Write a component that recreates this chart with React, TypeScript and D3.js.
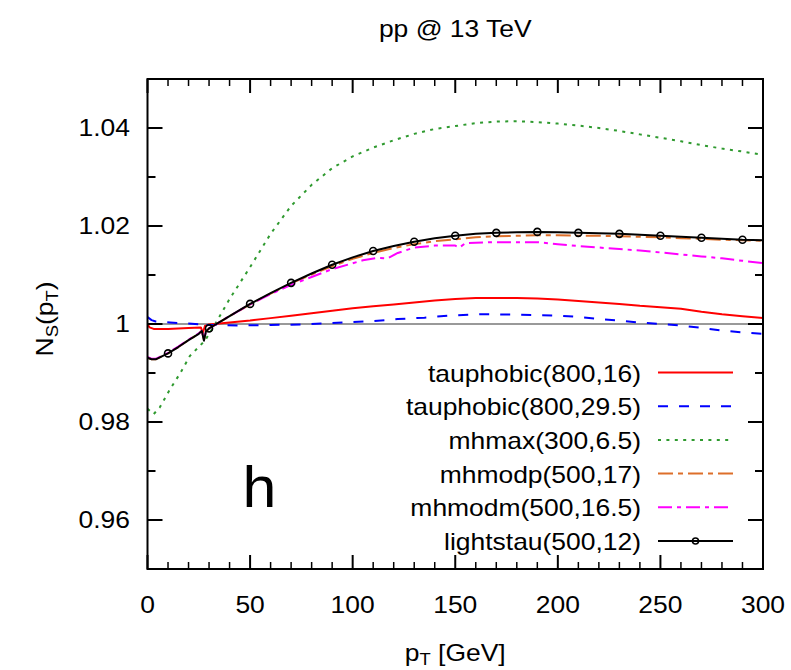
import React from "react";
import * as d3 from "d3";

const titleText = "pp @ 13 TeV";
const xTickValues = [0, 50, 100, 150, 200, 250, 300];
const xTickLabels = ["0", "50", "100", "150", "200", "250", "300"];
const yTickValues = [0.96, 0.98, 1, 1.02, 1.04];
const yTickLabels = ["0.96", "0.98", "1", "1.02", "1.04"];
const seriesNames = [
  "tauphobic(800,16)",
  "tauphobic(800,29.5)",
  "mhmax(300,6.5)",
  "mhmodp(500,17)",
  "mhmodm(500,16.5)",
  "lightstau(500,12)",
];

type P = [number, number];

const tauphobic16: P[] = [
  [0, 1.0], [1, 0.9993], [3, 0.999], [10, 0.999], [20, 0.9992], [26, 0.9993], [27, 0.9982], [28, 0.9996],
  [30, 0.9999], [40, 1.0003], [50, 1.0007], [60, 1.0012], [70, 1.0017], [80, 1.0022], [90, 1.0027],
  [100, 1.0032], [110, 1.0036], [120, 1.004], [130, 1.0044], [140, 1.0048], [150, 1.0051], [160, 1.0053],
  [170, 1.0053], [180, 1.0053], [190, 1.0052], [200, 1.005], [210, 1.0047], [220, 1.0044], [230, 1.0041],
  [240, 1.0037], [250, 1.0034], [260, 1.0031], [270, 1.0025], [280, 1.002], [290, 1.0016], [300, 1.0012],
];

const tauphobic295: P[] = [
  [0, 1.0014], [2, 1.0008], [4, 1.0005], [11, 1.0003], [20, 1.0001], [26, 0.9999], [27, 0.9993], [28, 0.9998],
  [30, 0.9998], [45, 0.9997], [60, 0.9998], [75, 0.9999], [86, 1.0001], [95, 1.0003], [110, 1.0006],
  [122, 1.001], [135, 1.0013], [147, 1.0017], [162, 1.002], [182, 1.0019], [201, 1.0017], [211, 1.0014],
  [221, 1.001], [230, 1.0007], [240, 1.0003], [250, 1.0], [260, 0.9997], [270, 0.9992], [279, 0.9987],
  [290, 0.9983], [300, 0.998],
];

const mhmax: P[] = [
  [0, 0.9827], [3, 0.9816], [6, 0.983], [11, 0.9867], [16, 0.99], [20.7, 0.9935], [28, 0.9966], [33, 1.0],
  [40, 1.0051], [50, 1.0116], [60, 1.0184], [70, 1.0241], [80, 1.0284], [90, 1.0318], [100, 1.0342],
  [110, 1.036], [120, 1.0375], [130, 1.0388], [140, 1.0398], [150, 1.0404], [160, 1.041], [170, 1.0413],
  [180, 1.0414], [190, 1.0412], [200, 1.0409], [210, 1.0405], [220, 1.04], [230, 1.0394], [240, 1.0387],
  [250, 1.038], [260, 1.0373], [270, 1.0365], [280, 1.0358], [290, 1.0352], [300, 1.0345],
];

const mhmodp: P[] = [
  [0, 0.9931], [2, 0.9928], [4, 0.9928], [6, 0.9932], [10, 0.994], [15, 0.9953], [20, 0.9967], [25, 0.998],
  [26.5, 0.9986], [27.5, 0.9968], [28.5, 0.9985], [30, 0.9991], [40, 1.0016], [50, 1.004], [60, 1.0062],
  [70, 1.0083], [80, 1.0101], [90, 1.0118], [100, 1.0133], [110, 1.0145], [120, 1.0155], [130, 1.0163],
  [140, 1.0169], [150, 1.0173], [160, 1.0177], [170, 1.0179], [180, 1.018], [190, 1.0181], [200, 1.0181],
  [210, 1.018], [220, 1.018], [230, 1.0179], [240, 1.0178], [250, 1.0177], [260, 1.0175], [270, 1.0174],
  [280, 1.0172], [290, 1.0171], [300, 1.017],
];

const mhmodm: P[] = [
  [0, 0.9933], [2, 0.9929], [4, 0.9929], [6, 0.9933], [10, 0.9941], [15, 0.9954], [20, 0.9968], [25, 0.9981],
  [26.5, 0.9986], [27.5, 0.9968], [28.5, 0.9985], [30, 0.9991], [40, 1.0016], [50, 1.004], [60, 1.0061],
  [70, 1.008], [80, 1.0096], [90, 1.0112], [100, 1.0124], [105, 1.013], [112, 1.0135], [117, 1.0134],
  [122, 1.0145], [130, 1.0156], [140, 1.016], [150, 1.016], [152, 1.0156], [155, 1.0165], [160, 1.0166],
  [170, 1.0167], [180, 1.0167], [190, 1.0167], [200, 1.0163], [210, 1.0159], [220, 1.0156], [230, 1.0153],
  [240, 1.015], [250, 1.0146], [260, 1.0142], [270, 1.0138], [280, 1.0134], [290, 1.0129], [300, 1.0124],
];

const lightstau: P[] = [
  [0, 0.9931], [2, 0.9928], [4, 0.9928], [6, 0.9932], [10, 0.994], [15, 0.9953], [20, 0.9967], [25, 0.998],
  [26.5, 0.9986], [27.5, 0.9966], [28.5, 0.9985], [30, 0.9991], [40, 1.0016], [50, 1.0041], [60, 1.0063],
  [70, 1.0084], [80, 1.0103], [90, 1.0121], [100, 1.0136], [110, 1.0149], [120, 1.0159], [130, 1.0168],
  [140, 1.0175], [150, 1.018], [160, 1.0184], [170, 1.0186], [180, 1.0187], [190, 1.0188], [200, 1.0187],
  [210, 1.0186], [220, 1.0185], [230, 1.0184], [240, 1.0182], [250, 1.018], [260, 1.0178], [270, 1.0176],
  [280, 1.0174], [290, 1.0172], [300, 1.0171],
];

const lightstauMarkerX = [10, 30, 50, 70, 90, 110, 130, 150, 170, 190, 210, 230, 250, 270, 290];

const W = 791;
const H = 670;
const L = 147.5, R = 763, TOP = 79, BOT = 569;
const FONT = "'Liberation Sans', Arial, Helvetica, sans-serif";
const SX = 1.15;
const FS = 23;

function Txt(props: { x: number; y: number; anchor?: string; size?: number; sx?: number; children: React.ReactNode; rotate?: number }) {
  const { x, y, anchor = "start", size = FS, sx = SX, rotate = 0 } = props;
  return (
    <text
      transform={`translate(${x},${y}) rotate(${rotate}) scale(${sx},1)`}
      textAnchor={anchor}
      fontSize={size}
      fontFamily={FONT}
      fill="#000"
    >
      {props.children}
    </text>
  );
}

export default function App() {
  const x = d3.scaleLinear().domain([0, 300]).range([L, R]);
  const y = d3.scaleLinear().domain([0.95, 1.05]).range([BOT, TOP]);
  const line = d3.line<P>().x((d) => x(d[0])).y((d) => y(d[1]));

  const styles = [
    { data: tauphobic16, color: "#ff0000", dash: "none" },
    { data: tauphobic295, color: "#0000ff", dash: "10,11" },
    { data: mhmax, color: "#2f9a2f", dash: "3,5.4" },
    { data: mhmodp, color: "#dd6f2a", dash: "15,5,5,5" },
    { data: mhmodm, color: "#ff00ff", dash: "14,5,4,5" },
    { data: lightstau, color: "#000000", dash: "none" },
  ];

  const xMinor = d3.range(0, 301, 10).filter((v) => v % 50 !== 0);
  const yMinor = [0.95, 0.97, 0.99, 1.01, 1.03, 1.05].filter((v) => v > 0.951 && v < 1.049);

  const markers = lightstau.filter((d) => lightstauMarkerX.includes(d[0]));

  const legX1 = 658, legX2 = 733, legTextX = 641, legY0 = 372.5, legDy = 33.7;

  return (
    <svg width={W} height={H} style={{ position: "absolute", left: 0, top: 0, background: "#fff" }}>
      <defs>
        <clipPath id="plotclip">
          <rect x={L} y={TOP} width={R - L} height={BOT - TOP} />
        </clipPath>
      </defs>
      <rect x={0} y={0} width={W} height={H} fill="#fff" />

      <line x1={L} x2={R} y1={y(1)} y2={y(1)} stroke="#999" strokeWidth={2} />

      <g clipPath="url(#plotclip)">
        {styles.map((s, i) => (
          <path
            key={i}
            d={line(s.data) || ""}
            fill="none"
            stroke={s.color}
            strokeWidth={2}
            strokeDasharray={s.dash}
            strokeLinejoin="round"
          />
        ))}
        {markers.map((d, i) => (
          <circle key={i} cx={x(d[0])} cy={y(d[1])} r={3.5} fill="none" stroke="#000" strokeWidth={1.6} />
        ))}
      </g>

      <rect x={L} y={TOP} width={R - L} height={BOT - TOP} fill="none" stroke="#000" strokeWidth={2} />

      {xTickValues.map((v) => (
        <g key={"xt" + v}>
          <line x1={x(v)} x2={x(v)} y1={BOT} y2={BOT - 14} stroke="#000" strokeWidth={2} />
          <line x1={x(v)} x2={x(v)} y1={TOP} y2={TOP + 14} stroke="#000" strokeWidth={2} />
        </g>
      ))}
      {xMinor.map((v) => (
        <g key={"xm" + v}>
          <line x1={x(v)} x2={x(v)} y1={BOT} y2={BOT - 7} stroke="#000" strokeWidth={1.5} />
          <line x1={x(v)} x2={x(v)} y1={TOP} y2={TOP + 7} stroke="#000" strokeWidth={1.5} />
        </g>
      ))}
      {yTickValues.map((v) => (
        <g key={"yt" + v}>
          <line x1={L} x2={L + 15} y1={y(v)} y2={y(v)} stroke="#000" strokeWidth={2} />
          <line x1={R} x2={R - 15} y1={y(v)} y2={y(v)} stroke="#000" strokeWidth={2} />
        </g>
      ))}
      {yMinor.map((v) => (
        <g key={"ym" + v}>
          <line x1={L} x2={L + 8} y1={y(v)} y2={y(v)} stroke="#000" strokeWidth={2} />
          <line x1={R} x2={R - 8} y1={y(v)} y2={y(v)} stroke="#000" strokeWidth={2} />
        </g>
      ))}

      {xTickValues.map((v, i) => (
        <Txt key={"xl" + v} x={x(v)} y={613} anchor="middle">{xTickLabels[i]}</Txt>
      ))}
      {yTickValues.map((v, i) => (
        <Txt key={"yl" + v} x={130} y={y(v) + 8} anchor="end">{yTickLabels[i]}</Txt>
      ))}

      <Txt x={(L + R) / 2} y={37} anchor="middle">{titleText}</Txt>

      <Txt x={(L + R) / 2} y={661} anchor="middle">
        <tspan>p</tspan>
        <tspan fontSize={16} dy={4}>T</tspan>
        <tspan dy={-4}> [GeV]</tspan>
      </Txt>

      <Txt x={53} y={319} anchor="middle" rotate={-90}>
        <tspan>N</tspan>
        <tspan fontSize={16} dy={5}>S</tspan>
        <tspan dy={-5}>(p</tspan>
        <tspan fontSize={16} dy={5}>T</tspan>
        <tspan dy={-5}>)</tspan>
      </Txt>

      <Txt x={242.5} y={507} size={58} sx={1.05}>h</Txt>

      {styles.map((s, i) => {
        const ly = legY0 + i * legDy;
        return (
          <g key={"lg" + i}>
            <Txt x={legTextX} y={ly + 9} anchor="end">{seriesNames[i]}</Txt>
            <line x1={legX1} x2={legX2} y1={ly} y2={ly} stroke={s.color} strokeWidth={2} strokeDasharray={s.dash} />
            {i === 5 && <circle cx={(legX1 + legX2) / 2} cy={ly} r={3} fill="none" stroke="#000" strokeWidth={1.6} />}
          </g>
        );
      })}
    </svg>
  );
}
